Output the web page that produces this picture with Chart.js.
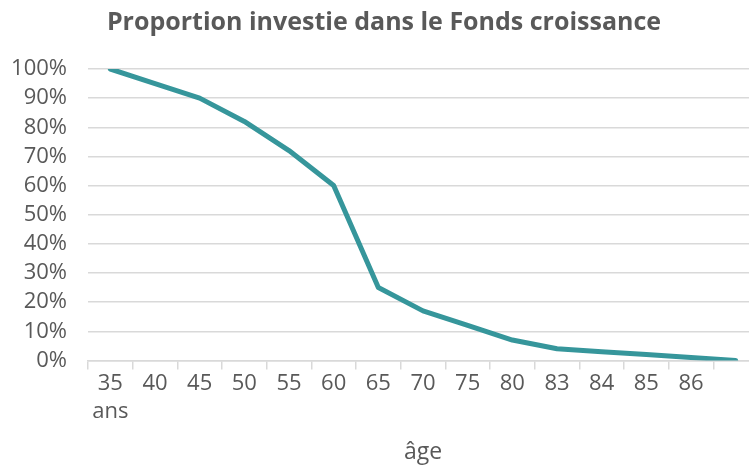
<!DOCTYPE html>
<html>
<head>
<meta charset="utf-8">
<script src="https://cdn.jsdelivr.net/npm/chart.js@4.4.0/dist/chart.umd.min.js"></script>
<style>
  html, body { margin: 0; padding: 0; background: #fff; overflow: hidden; }
  #wrap { position: relative; width: 760px; height: 469px; }
</style>
</head>
<body>
<div id="wrap"><canvas id="ageChart"></canvas></div>
<script>
const ages = [["35", "ans"], "40", "45", "50", "55", "60", "65", "70", "75", "80", "83", "84", "85", "86", ""];
const proportion = [100, 95, 90, 82, 72, 60, 25, 17, 12, 7, 4, 3, 2, 1, 0];
const yTicks = [0, 10, 20, 30, 40, 50, 60, 70, 80, 90, 100];

const textColor = "#595959";
const gridColor = "#d9d9d9";
const font = "'Open Sans', 'Noto Sans', sans-serif";

const ctx = document.getElementById("ageChart").getContext("2d");

new Chart(ctx, {
  type: "line",
  data: {
    labels: ages,
    datasets: [
      {
        label: "Proportion",
        data: proportion,
        borderColor: "#36969b",
        backgroundColor: "#36969b",
        borderWidth: 5,
        pointRadius: 0,
        tension: 0,
        fill: false,
        borderCapStyle: "round",
        borderJoinStyle: "round",
      },
    ],
  },
  options: {
    responsive: true,
    maintainAspectRatio: false,
    animation: false,
    layout: {
      padding: { left: 10, right: 2, top: 0, bottom: 3 },
    },
    plugins: {
      legend: { display: false },
      tooltip: { enabled: false },
      title: {
        display: true,
        text: "Proportion investie dans le Fonds croissance",
        color: textColor,
        font: { family: font, size: 25, weight: "bold" },
        padding: { top: 8, bottom: 31 },
      },
    },
    scales: {
      x: {
        offset: true,
        grid: {
          offset: true,
          drawOnChartArea: false,
          drawTicks: true,
          tickLength: 9,
          color: gridColor,
          lineWidth: 1.5,
        },
        border: { display: true, color: gridColor, width: 1.5 },
        ticks: {
          color: textColor,
          font: { family: font, size: 22, lineHeight: 1.25 },
          padding: 1,
          maxRotation: 0,
          autoSkip: false,
        },
        title: {
          display: true,
          text: "âge",
          color: textColor,
          font: { family: font, size: 23 },
          padding: { top: 12, bottom: 0 },
        },
      },
      y: {
        min: 0,
        max: 100,
        afterBuildTicks: (axis) => {
          axis.ticks = yTicks.map((v) => ({ value: v }));
        },
        afterFit: (axis) => {
          axis.width = 78;
        },
        grid: {
          color: gridColor,
          lineWidth: 1.5,
          drawTicks: false,
        },
        border: { display: false },
        ticks: {
          color: textColor,
          font: { family: font, size: 22 },
          padding: 21,
          autoSkip: false,
          callback: (v) => v + "%",
        },
      },
    },
  },
});
</script>
</body>
</html>
